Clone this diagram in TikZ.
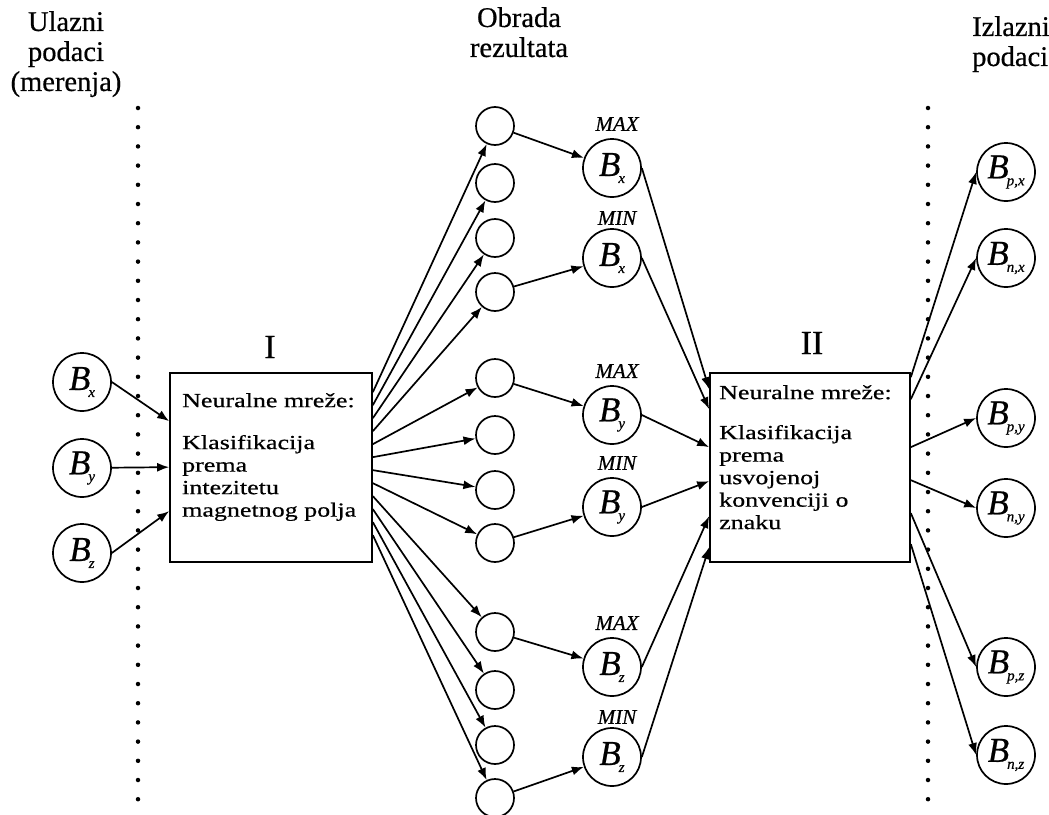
\documentclass[tikz,border=0pt]{standalone}
\usepackage{fontspec}
\setmainfont{Liberation Serif}[FakeBold=0.6]
\newfontfamily\boxfont[FakeStretch=1.3,FakeBold=0.6]{Liberation Serif}
\usetikzlibrary{arrows.meta}
\newcommand{\Bl}[1]{{\itshape\fontsize{35}{35}\selectfont B}\kern-2pt\raisebox{-7pt}{\itshape\fontsize{15}{15}\selectfont #1}}
\begin{document}
\begin{tikzpicture}[x=1pt,y=-1pt,
  every node/.style={inner sep=0pt},
  bigc/.style={circle,draw,line width=1.7pt,minimum size=58pt,fill=white},
  smallc/.style={circle,draw,line width=1.7pt,minimum size=38pt,fill=white},
  nnbox/.style={draw,line width=1.7pt,fill=white,minimum height=189pt},
  hdr/.style={font=\fontsize{28.5}{30}\selectfont,align=center},
  roman/.style={font=\fontsize{34}{34}\selectfont},
  mm/.style={font=\itshape\fontsize{21}{21}\selectfont},
  boxtxt/.style={font=\boxfont\fontsize{20}{22.5}\selectfont,align=left,anchor=north west},
  conn/.style={line width=1.7pt,-{Latex[length=12pt,width=9pt]}},
  dotline/.style={line width=4.5pt,line cap=round,dash pattern=on 0pt off 19.2pt}]
\useasboundingbox (0,0) rectangle (1049,814);

% headers
\node[hdr,anchor=north] (h1) at (66,11) {Ulazni\\podaci\\(merenja)};
\node[hdr,anchor=north] (h2) at (519,7) {Obrada\\rezultata};
\node[hdr,anchor=north west,align=left] (h3) at (972,16) {Izlazni\\podaci};

% dotted separators
\coordinate (d1a) at (138,108);
\coordinate (d1b) at (138,800);
\coordinate (d2a) at (928,108);
\coordinate (d2b) at (928,800);
\draw[dotline] (d1a) -- (d1b);
\draw[dotline] (d2a) -- (d2b);

% inputs
\node[bigc] (inx) at (82,382) {\Bl{x}};
\node[bigc] (iny) at (82,468) {\Bl{y}};
\node[bigc] (inz) at (82,553) {\Bl{z}};

% box I
\node[nnbox,minimum width=202pt] (nn1) at (271,467.5) {};
\node[roman] (lab1) at (270,347) {I};
\node[boxtxt] (t1) at (182,393) {Neuralne mreže:\\[19.5pt]Klasifikacija\\prema\\intezitetu\\magnetnog polja};

% small circles
\foreach \i/\y in {1/126,2/183,3/238,4/292,5/378,6/435,7/490,8/543,9/632,10/690,11/745,12/798}
  \node[smallc] (s\i) at (495,\y) {};

% middle B circles
\node[bigc] (mx1) at (612,168) {\Bl{x}};
\node[bigc] (mx2) at (612,258) {\Bl{x}};
\node[bigc] (my1) at (612,415) {\Bl{y}};
\node[bigc] (my2) at (612,507) {\Bl{y}};
\node[bigc] (mz1) at (612,667) {\Bl{z}};
\node[bigc] (mz2) at (612,757) {\Bl{z}};
\node[mm] (lx1) at (617,124) {MAX};
\node[mm] (lx2) at (617,218) {MIN};
\node[mm] (ly1) at (617,371) {MAX};
\node[mm] (ly2) at (617,463) {MIN};
\node[mm] (lz1) at (617,623) {MAX};
\node[mm] (lz2) at (617,717) {MIN};

% box II
\node[nnbox,minimum width=200pt] (nn2) at (810,467.5) {};
\node[roman] (lab2) at (812,343) {II};
\node[boxtxt] (t2) at (719,385) {Neuralne mreže:\\[17.5pt]Klasifikacija\\prema\\usvojenoj\\konvenciji o\\znaku};

% outputs
\node[bigc] (r1) at (1006,172) {\Bl{p,x}};
\node[bigc] (r2) at (1006,258) {\Bl{n,x}};
\node[bigc] (r3) at (1006,418) {\Bl{p,y}};
\node[bigc] (r4) at (1006,508) {\Bl{n,y}};
\node[bigc] (r5) at (1006,667) {\Bl{p,z}};
\node[bigc] (r6) at (1006,755) {\Bl{n,z}};

% connectors: inputs to box I
\draw[conn] (inx.east) -- ([yshift=-49pt]nn1.north west);
\draw[conn] (iny) -- ([yshift=-95pt]nn1.north west);
\draw[conn] (inz.east) -- ([yshift=-139pt]nn1.north west);

% box I fan-out
\foreach \i/\o in {1/20,2/33,3/46,4/59,5/72,6/85,7/98,8/111,9/124,10/137,11/150,12/163}
  \draw[conn] ([yshift=-\o pt]nn1.north east) -- (s\i);

% small circles to B circles
\draw[conn] (s1) -- (mx1);
\draw[conn] (s4) -- (mx2);
\draw[conn] (s5) -- (my1);
\draw[conn] (s8) -- (my2);
\draw[conn] (s9) -- (mz1);
\draw[conn] (s12) -- (mz2);

% B circles to box II
\draw[conn] (mx1.east) -- ([yshift=-17pt]nn2.north west);
\draw[conn] (mx2.east) -- ([yshift=-37pt]nn2.north west);
\draw[conn] (my1.east) -- ([yshift=-75pt]nn2.north west);
\draw[conn] (my2.east) -- ([yshift=-109pt]nn2.north west);
\draw[conn] (mz1.east) -- ([yshift=-144pt]nn2.north west);
\draw[conn] (mz2.east) -- ([yshift=-175pt]nn2.north west);

% box II to outputs
\draw[conn] ([yshift=-5pt]nn2.north east) -- (r1.west);
\draw[conn] ([yshift=-27pt]nn2.north east) -- (r2.west);
\draw[conn] ([yshift=-75pt]nn2.north east) -- (r3.west);
\draw[conn] ([yshift=-108pt]nn2.north east) -- (r4.west);
\draw[conn] ([yshift=-141pt]nn2.north east) -- (r5.west);
\draw[conn] ([yshift=-172pt]nn2.north east) -- (r6.west);
\end{tikzpicture}
\end{document}
